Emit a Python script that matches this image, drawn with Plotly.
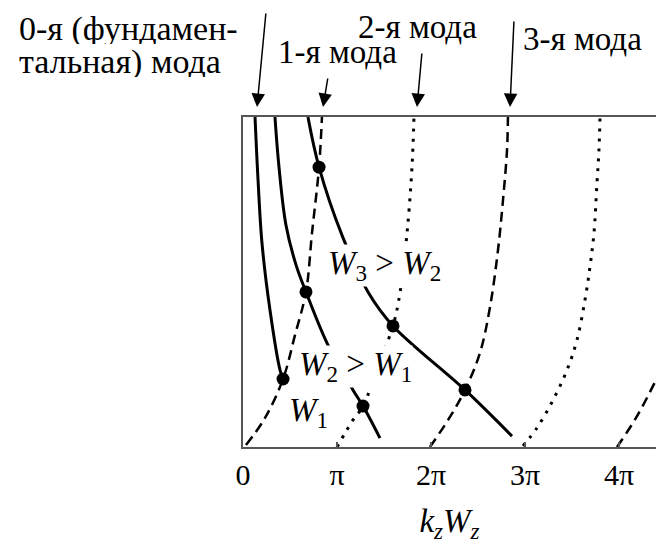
import plotly.graph_objects as go

# x in units of pi (k_z W_z / pi), y in arbitrary units (0 = bottom, 10 = top)
mode1_x = [0.032, 0.234, 0.426, 0.553, 0.670, 0.734, 0.809, 0.840]
mode1_y = [0.06, 0.88, 2.06, 3.39, 4.70, 6.48, 8.48, 10.0]

mode2_x = [1.000, 1.085, 1.170, 1.277, 1.436, 1.596, 1.670, 1.745, 1.798, 1.819]
mode2_y = [0.0, 0.42, 0.82, 1.24, 2.45, 3.67, 4.67, 6.48, 8.48, 10.0]

mode3_x = [1.989, 2.202, 2.362, 2.521, 2.628, 2.713, 2.766, 2.809, 2.819]
mode3_y = [0.0, 0.91, 1.73, 2.85, 4.24, 5.97, 7.48, 9.0, 10.0]

mode4_x = [2.979, 3.128, 3.298, 3.447, 3.553, 3.638, 3.691, 3.734, 3.766, 3.787, 3.798]
mode4_y = [0.03, 0.58, 1.42, 2.33, 3.24, 4.45, 5.45, 6.48, 8.0, 9.0, 9.97]

mode5_x = [3.979, 4.181, 4.394, 4.521]
mode5_y = [0.0, 0.88, 2.03, 2.79]

w1_x = [0.128, 0.160, 0.202, 0.287, 0.394, 0.426]
w1_y = [10.0, 8.09, 6.18, 4.15, 2.33, 2.06]

w2_x = [0.340, 0.383, 0.457, 0.564, 0.670, 0.894, 1.170, 1.277, 1.457]
w2_y = [10.0, 8.48, 6.73, 5.52, 4.70, 3.15, 1.73, 1.24, 0.27]

w3_x = [0.691, 0.809, 1.053, 1.330, 1.596, 2.362, 2.862]
w3_y = [10.0, 8.48, 6.42, 4.70, 3.67, 1.73, 0.33]

dots_x = [0.426, 0.670, 0.809, 1.277, 1.596, 2.362]
dots_y = [2.06, 4.70, 8.48, 1.24, 3.67, 1.73]

tick_vals = [0, 1, 2, 3, 4]
tick_text = ["0", "π", "2π", "3π", "4π"]

mode_labels = ["0-я (фундамен-", "тальная) мода", "1-я мода", "2-я мода", "3-я мода"]

FONT = "Liberation Serif, Times New Roman, serif"
DASH = "10px,6px"
DOT = "3px,7px"

# plot area in pixels (for positioning texts in paper units)
PL, PR, PT, PB = 243, 656, 117, 447


def px2paper(px, py):
    return (px - PL) / (PR - PL), (PB - py) / (PB - PT)


fig = go.Figure()


def add_line(x, y, dash, width):
    fig.add_trace(go.Scatter(x=x, y=y, mode="lines",
                             line=dict(color="black", width=width, dash=dash,
                                       shape="spline", smoothing=1.0),
                             hoverinfo="skip", showlegend=False))


add_line(mode1_x, mode1_y, DASH, 2.5)
add_line(mode2_x, mode2_y, DOT, 3)
add_line(mode3_x, mode3_y, DASH, 2.5)
add_line(mode4_x, mode4_y, DOT, 3)
add_line(mode5_x, mode5_y, DASH, 2.5)
add_line(w1_x, w1_y, "solid", 3)
add_line(w2_x, w2_y, "solid", 3)
add_line(w3_x, w3_y, "solid", 3)

fig.add_trace(go.Scatter(x=dots_x, y=dots_y, mode="markers",
                         marker=dict(color="black", size=13),
                         hoverinfo="skip", showlegend=False))

annos = []


def ptext(px, py, s, size=33, height=None):
    x, y = px2paper(px, py)
    d = dict(x=x, y=y, xref="paper", yref="paper", text=s, showarrow=False,
             xanchor="left", yanchor="middle", borderpad=0,
             font=dict(family=FONT, size=size, color="black"))
    if height:
        d.update(height=height, valign="middle")
    annos.append(d)


def dtext(x, y, s, size=33, bg=None):
    d = dict(x=x, y=y, xref="x", yref="y", text=s, showarrow=False,
             xanchor="left", yanchor="middle",
             font=dict(family=FONT, size=size, color="black"))
    if bg:
        d.update(bgcolor=bg, borderpad=0)
    annos.append(d)


ptext(18, 29, mode_labels[0], 34, height=30)
ptext(18, 62, mode_labels[1], 34, height=30)
ptext(277, 52, mode_labels[2])
ptext(357, 27, mode_labels[3])
ptext(522, 39, mode_labels[4])

dtext(0.894, 5.5, "<i>W</i><sub>3</sub> &gt; <i>W</i><sub>2</sub>", bg="white")
dtext(0.585, 2.45, "<i>W</i><sub>2</sub> &gt; <i>W</i><sub>1</sub>", bg="white")
dtext(0.468, 1.05, "<i>W</i><sub>1</sub>")

# arrows: tip pixel x, tail offset (pixels)
for tip_px, ax, ay in [(257, 9, -95), (323, 5, -30), (417, 5, -55), (510, 4, -87)]:
    x, y = px2paper(tip_px, 107)
    annos.append(dict(x=x, y=y, xref="paper", yref="paper", ax=ax, ay=ay,
                      axref="pixel", ayref="pixel", showarrow=True,
                      arrowhead=2, arrowsize=1.8, arrowwidth=1.5, arrowcolor="black",
                      standoff=0, text=""))

fig.update_layout(
    width=656, height=544,
    margin=dict(l=PL, r=656 - PR, t=PT, b=544 - PB),
    paper_bgcolor="white", plot_bgcolor="white",
    annotations=annos,
    font=dict(family=FONT, color="black"),
)
fig.update_xaxes(range=[0, 4.394], showgrid=False, zeroline=False,
                 showline=True, mirror=True, linecolor="#555", linewidth=2,
                 ticks="inside", ticklen=5, tickcolor="#555", tickwidth=1.5,
                 tickvals=tick_vals, ticktext=tick_text,
                 tickfont=dict(family=FONT, size=30, color="black"),
                 title=dict(text="<i>k</i><sub><i>z</i></sub><i>W</i><sub><i>z</i></sub>",
                            font=dict(family=FONT, size=33, color="black"), standoff=22))
fig.update_yaxes(range=[0, 10], showgrid=False, zeroline=False,
                 showline=True, mirror=False, linecolor="#555", linewidth=2,
                 showticklabels=False, ticks="")

fig.write_html("out.html", config={"displayModeBar": False},
               post_script="document.body.style.margin='0';document.body.style.overflow='hidden';")
